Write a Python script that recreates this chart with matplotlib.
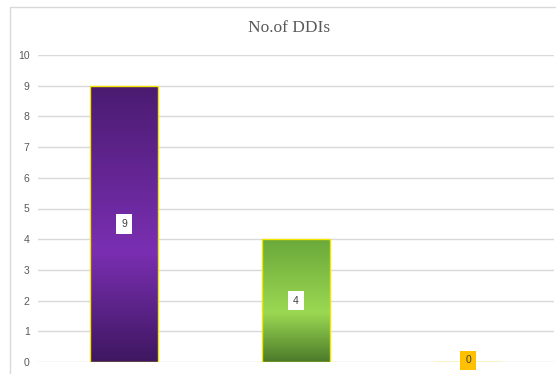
import numpy as np
import matplotlib
matplotlib.use("Agg")
import matplotlib.pyplot as plt
from matplotlib.colors import LinearSegmentedColormap
from matplotlib.patches import Rectangle

categories = ["A", "B", "C"]
values = [9, 4, 0]
yticks = list(range(0, 11))

# gradient stops (edge, centre, edge) for each bar
bar_gradients = [
    ["#3e1760", "#7a2fb2", "#4a1b70"],
    ["#4b7a2a", "#9bd852", "#6aa83a"],
    ["#ffc000", "#ffc000", "#ffc000"],
]
label_faces = ["white", "white", "#ffc000"]

fig = plt.figure(figsize=(5.56, 3.74), dpi=100)
W, H = 556, 374

# outer chart frame
fig.patches.append(Rectangle((10 / W, -0.05), 1.0, 1 - 7 / H + 0.05,
                             transform=fig.transFigure, fill=False,
                             edgecolor="#d9d9d9", linewidth=1.0))

ax = fig.add_axes([38 / W, 12 / H, 516 / W, 307 / H])
ax.set_xlim(-0.5, 2.5)
ax.set_ylim(0, 10)
for s in ax.spines.values():
    s.set_visible(False)
ax.set_xticks([])
ax.set_yticks(yticks)
ax.tick_params(axis="y", length=0, pad=6, labelsize=7.5, labelcolor="#595959")
for t in ax.get_yticklabels():
    t.set_fontfamily("Liberation Sans")
ax.grid(axis="y", color="#d9d9d9", linewidth=1.0)
ax.set_axisbelow(True)

width = 0.395
x = np.arange(len(categories))
bars = ax.bar(x, values, width=width, color="none", edgecolor="#f2e600",
              linewidth=1.0, zorder=3)

t = np.linspace(0, 1, 512)
for b, stops, v in zip(bars, bar_gradients, values):
    if v <= 0:
        continue
    cmap = LinearSegmentedColormap.from_list("g", [(0, stops[0]), (0.4, stops[1]),
                                                  (1, stops[2])], N=512)
    grad = t[:, None] * np.ones((1, 8))
    x0 = b.get_x()
    im = ax.imshow(grad, cmap=cmap, aspect="auto", origin="lower",
                   extent=(x0, x0 + b.get_width(), 0, v), zorder=2,
                   interpolation="bilinear")
    im.set_clip_path(b)

for xi, v, fc in zip(x, values, label_faces):
    ax.text(xi, v / 2 if v > 0 else 0.05, str(v), ha="center", va="center",
            fontsize=7.5, color="#404040", family="Liberation Sans", zorder=5,
            bbox=dict(boxstyle="square,pad=0.45", facecolor=fc, edgecolor="none"),
            clip_on=False)

fig.text(289 / W, 1 - 28 / H, "No.of DDIs", ha="center", va="center",
         fontsize=12.5, color="#595959", family="Liberation Serif")

fig.savefig("out.png", dpi=100)
